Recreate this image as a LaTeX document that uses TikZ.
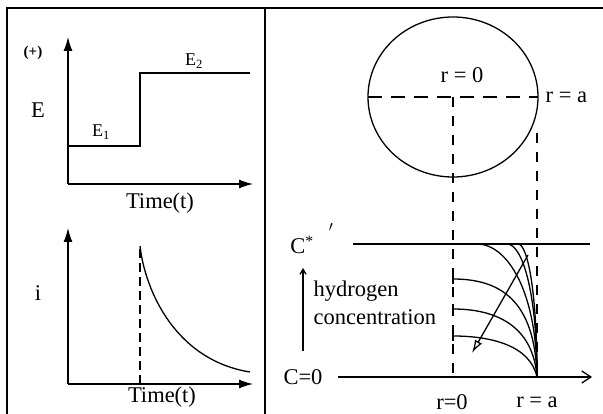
\documentclass[tikz,border=0pt]{standalone}
\usepackage{fontspec}
\setmainfont{Liberation Serif}
\usetikzlibrary{arrows.meta}

\tikzset{
  lbl/.style={inner sep=0pt, font=\fontsize{22.5}{25}\selectfont},
  sublbl/.style={inner sep=0pt, font=\fontsize{18}{20}\selectfont},
  smalllbl/.style={inner sep=0pt, font=\fontsize{15}{17}\selectfont\bfseries},
  axis/.style={-{Latex[length=14pt,width=9pt]}},
  guide/.style={dash pattern=on 10pt off 9pt},
}

\begin{document}
\begin{tikzpicture}[x=1pt,y=-1pt,>=Latex,line width=1.3pt]
\useasboundingbox (0,0) rectangle (603,414);
% frame
\draw[line width=2pt] (7,414) -- (7,8) -- (603,8);
\draw[line width=2pt] (265,8) -- (265,414);

% potential step
\coordinate (Eo) at (68,184);
\draw[axis] (Eo) -- (68,37);
\draw[axis] (Eo) -- (253,184);
\draw (68,146) -- (140,146) -- (140,73) -- (250,73);
\node[smalllbl] (plus) at (33,53) {(+)};
\node[lbl] (E) at (38,110) {E};
\node[sublbl] (E1) at (101,132) {E\textsubscript{1}};
\node[sublbl] (E2) at (194,61) {E\textsubscript{2}};
\node[lbl] (t1) at (160,203) {Time(t)};

% current transient
\coordinate (io) at (68,384);
\draw[axis] (io) -- (68,228);
\draw[axis] (io) -- (253,384);
\draw[dash pattern=on 9pt off 5pt] (140,384) -- (140,246);
\draw (140,246) .. controls (145,290) and (175,360) .. (250,372);
\node[lbl] (i) at (38,293) {i};
\node[lbl] (t2) at (162,397) {Time(t)};

% particle
\draw (453,97) ellipse [x radius=85, y radius=80];
\draw[dash pattern=on 14pt off 9pt] (368,97) -- (538,97);
\draw[guide] (453,97) -- (453,377);
\draw[guide] (537,133) -- (537,377);
\node[lbl] (r0top) at (462,75) {r = 0};
\node[lbl, anchor=west] (ratop) at (545,97) {r = a};

% concentration profiles
\draw (353,244) -- (590,244);
\draw[-{Straight Barb[length=9pt,width=12pt]}] (338,377) -- (592,377);
\node[lbl] (Cs) at (302,245) {C\textsuperscript{*}};
\node[lbl] (prime) at (331,231) {$'$};
\node[lbl] (C0) at (303,377) {C=0};
\draw[-{Straight Barb[length=5pt,width=6pt]}] (303,351) -- (303,268);
\node[lbl, anchor=west] (hyd) at (313,291) {hydrogen};
\node[lbl, anchor=west] (conc) at (313,317) {concentration};
\node[lbl] (r0) at (452,402) {r=0};
\node[lbl] (ra) at (537,402) {r = a};

\foreach \s in {477, 507, 518} {
  \draw (\s,244) .. controls ({\s+(537-\s)*0.5},244) and (537,{244+(377-244)*0.35}) .. (537,377);
}
\draw (453,279) .. controls (500,279) and (535,300) .. (537,377);
\draw (453,309) .. controls (495,309) and (533,325) .. (537,377);
\draw (453,336) .. controls (490,336) and (530,345) .. (537,377);
\foreach \y in {279, 309, 336} {
  \draw (453,\y-5) -- (453,\y+5);
}
\draw[-{Latex[open,length=13pt,width=8pt]}] (528,255) -- (472,353);
\end{tikzpicture}
\end{document}
